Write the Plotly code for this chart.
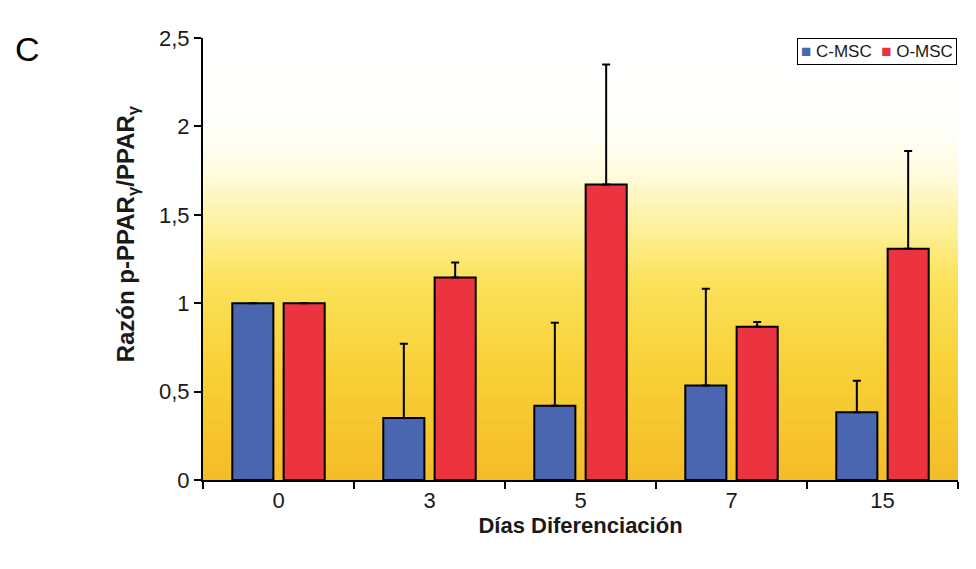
import plotly.graph_objects as go

# Data
dias = ["0", "3", "5", "7", "15"]
c_msc = [1.0, 0.35, 0.42, 0.535, 0.383]
c_msc_err = [0.0, 0.42, 0.47, 0.547, 0.179]
o_msc = [1.0, 1.145, 1.672, 0.867, 1.308]
o_msc_err = [0.0, 0.085, 0.678, 0.027, 0.553]
y_ticks = [0, 0.5, 1, 1.5, 2, 2.5]
series_names = ["C-MSC", "O-MSC"]
series_colors = ["#4A66B0", "#EC3440"]

FONT = "Liberation Sans, Arial, sans-serif"

fig = go.Figure()
for name, vals, errs, col in zip(series_names, [c_msc, o_msc], [c_msc_err, o_msc_err], series_colors):
    fig.add_trace(go.Bar(
        x=dias, y=vals, name=name, showlegend=False,
        marker=dict(color=col, line=dict(color="black", width=2)),
        error_y=dict(type="data", array=errs, arrayminus=[0] * len(dias),
                     symmetric=False, color="black", thickness=2, width=4),
    ))

# Vertical background gradient: white at top fading to golden yellow at the bottom
stops = [
    (0.00, (244, 188, 40)),
    (0.25, (248, 208, 55)),
    (0.45, (251, 226, 90)),
    (0.58, (253, 242, 160)),
    (0.70, (255, 251, 225)),
    (0.80, (255, 255, 250)),
    (1.00, (255, 255, 255)),
]

def lerp_color(t):
    for (t0, c0), (t1, c1) in zip(stops[:-1], stops[1:]):
        if t0 <= t <= t1:
            f = (t - t0) / (t1 - t0) if t1 > t0 else 0
            return tuple(round(a + (b - a) * f) for a, b in zip(c0, c1))
    return stops[-1][1]

n_bands = 80
shapes = []
for i in range(n_bands):
    y0 = i / n_bands
    y1 = (i + 1) / n_bands
    r, g, b = lerp_color((y0 + y1) / 2)
    shapes.append(dict(
        type="rect", xref="paper", yref="paper", x0=0, x1=1, y0=y0, y1=y1 + 0.002,
        fillcolor=f"rgb({r},{g},{b})", line=dict(width=0), layer="below",
    ))

# Compact boxed legend
legend_text = "&nbsp;&nbsp;".join(
    f"<span style='color:{c}'>■</span>&nbsp;{n}" for n, c in zip(series_names, series_colors)
)

fig.update_layout(
    width=976, height=569,
    margin=dict(l=203, r=18, t=38, b=89),
    paper_bgcolor="white", plot_bgcolor="white",
    separators=",.",
    barmode="group", bargap=0.32, bargroupgap=0.2,
    font=dict(family=FONT, size=23, color="#1a1a1a"),
    shapes=shapes,
    showlegend=False,
    xaxis=dict(
        type="category", tickson="boundaries",
        showline=True, linecolor="black", linewidth=2,
        ticks="outside", ticklen=7, tickwidth=2, tickcolor="black",
        showgrid=False, zeroline=False,
        title=dict(text="<b>Días Diferenciación</b>", font=dict(size=22), standoff=4),
        tickfont=dict(size=22),
    ),
    yaxis=dict(
        range=[0, 2.5], tickvals=y_ticks,
        showline=True, linecolor="black", linewidth=2,
        ticks="outside", ticklen=7, tickwidth=2, tickcolor="black",
        showgrid=False, zeroline=False,
        tickfont=dict(size=22),
    ),
    annotations=[
        dict(
            text="C", xref="paper", yref="paper", x=-0.251, y=1.0,
            xanchor="left", yanchor="top", showarrow=False,
            font=dict(size=34, color="black", family=FONT), yshift=10,
        ),
        dict(
            text="<b>Razón p-PPAR<sub>γ</sub>/PPAR<sub>γ</sub></b>",
            xref="paper", yref="paper", x=-0.1, y=0.557,
            xanchor="center", yanchor="middle", textangle=-90, showarrow=False,
            font=dict(size=24, color="#1a1a1a", family=FONT),
        ),
        dict(
            text=legend_text, xref="paper", yref="paper", x=0.999, y=1.0,
            xanchor="right", yanchor="top", showarrow=False,
            font=dict(size=17, color="#1a1a1a", family=FONT),
            bgcolor="white", bordercolor="black", borderwidth=1, borderpad=3,
        ),
    ],
)

fig.write_html("out.html")
